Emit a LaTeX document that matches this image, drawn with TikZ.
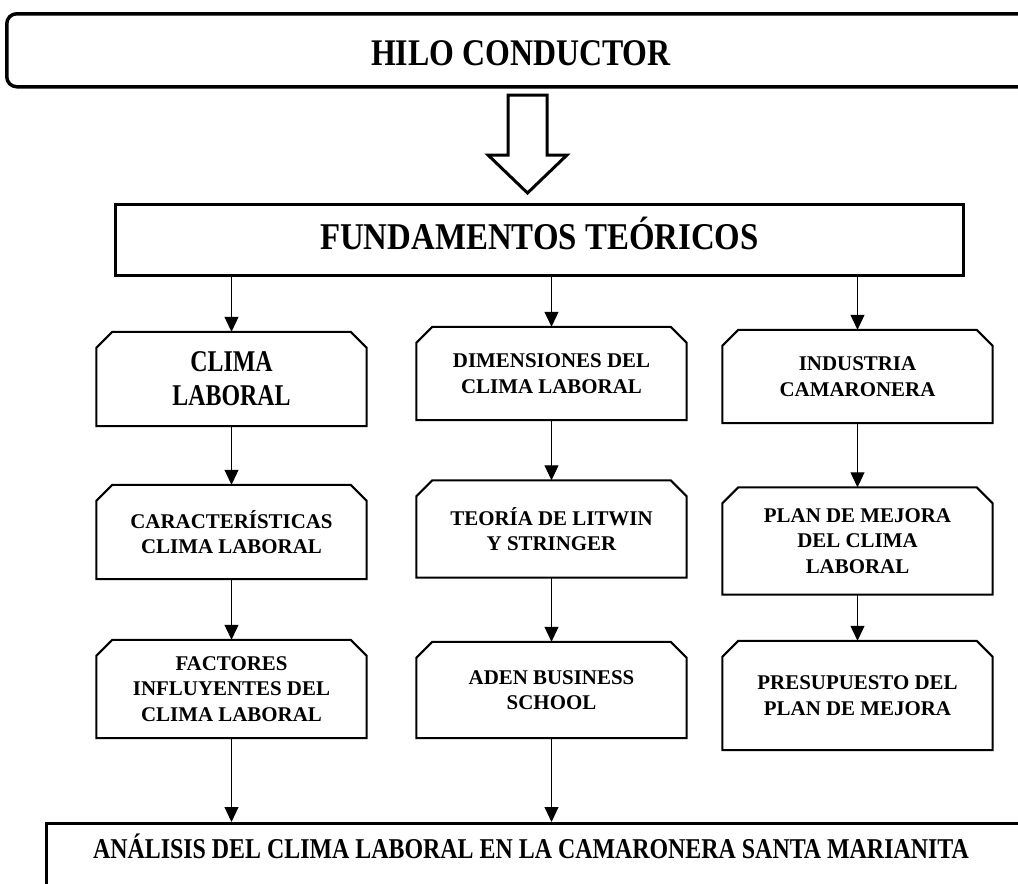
\documentclass[tikz,border=0pt]{standalone}
\usepackage{graphicx}
\usepackage{fontspec}
\setmainfont{Liberation Serif}
\usetikzlibrary{arrows.meta}

\tikzset{
  chambox/.style={minimum width=270bp, align=center, inner sep=2bp,
    font=\bfseries\fontsize{21}{25.5}\selectfont},
  link/.style={-{Triangle[length=15bp,width=14bp]}, line width=1bp},
}
% stretched lettering of the big titles
\newcommand\tall[2][1.28]{\scalebox{1}[#1]{#2}}
% outline with the two upper corners cut off
\newcommand\chamfer[1]{%
  \draw[line width=2bp] ([xshift=16bp]#1.north west) -- ([xshift=-16bp]#1.north east)
    -- ([yshift=-16bp]#1.north east) -- (#1.south east) -- (#1.south west)
    -- ([yshift=-16bp]#1.north west) -- cycle;}

\begin{document}
\begin{tikzpicture}[x=1bp, y=-1bp]
    \useasboundingbox (0,0) rectangle (1018,884);
    % title bar and hollow arrow
    \node[draw, line width=3.5bp, rounded corners=10bp, anchor=north west,
      minimum width=1040bp, minimum height=73bp] (hilo) at (5,12) {};
    \node[font=\bfseries\fontsize{32}{38}\selectfont, anchor=base] (hilotxt) at (521,65) {\tall[1.18]{HILO CONDUCTOR}};
    \draw[line width=3bp, line join=miter] (508,95) -- (547,95) -- (547,155) -- (567,155)
      -- (527.5,193) -- (488,155) -- (508,155) -- cycle;
    \node[draw, line width=3bp, minimum width=848bp, minimum height=71bp, text height=18bp, text depth=0bp,
      font=\bfseries\fontsize{33}{38}\selectfont] (fund) at (539.5,240) {\tall[1.15]{FUNDAMENTOS TEÓRICOS}};
    % first column
    \node[chambox, minimum height=94bp, font=\bfseries\fontsize{24}{34}\selectfont] (clima) at (231.5,379) {\tall[1.26]{CLIMA}\\\tall[1.26]{LABORAL}};
    \node[chambox, minimum height=94bp] (caract) at (231.5,532) {CARACTERÍSTICAS\\CLIMA LABORAL};
    \node[chambox, minimum height=98bp] (factores) at (231.5,689) {FACTORES\\INFLUYENTES DEL\\CLIMA LABORAL};
    % second column
    \node[chambox, minimum height=93bp] (dimens) at (551.5,373.5) {DIMENSIONES DEL\\CLIMA LABORAL};
    \node[chambox, minimum height=97bp] (teoria) at (551.5,529) {TEORÍA DE LITWIN\\Y STRINGER};
    \node[chambox, minimum height=96bp] (aden) at (551.5,690) {ADEN BUSINESS\\SCHOOL};
    % third column
    \node[chambox, minimum height=93bp] (industria) at (857.5,376.5) {INDUSTRIA\\CAMARONERA};
    \node[chambox, minimum height=107bp] (plan) at (857.5,541) {PLAN DE MEJORA\\DEL CLIMA\\LABORAL};
    \node[chambox, minimum height=109bp] (presup) at (857.5,695.5) {PRESUPUESTO DEL\\PLAN DE MEJORA};
    \foreach \b in {clima, caract, factores, dimens, teoria, aden, industria, plan, presup}
      \chamfer{\b};
    % bottom bar
    \node[draw, line width=3bp, anchor=north west, minimum width=1000bp,
      minimum height=90bp] (analisis) at (45,822) {};
    \node[font=\bfseries\fontsize{24}{28}\selectfont, anchor=base] (analisistxt) at (531,858)
      {\tall[1.2]{ANÁLISIS DEL CLIMA LABORAL EN LA CAMARONERA SANTA MARIANITA}};
    % connectors
    \foreach \b in {clima, dimens, industria}
      \draw[link] (fund.south -| \b.north) -- (\b.north);
    \foreach \a/\b in {clima/caract, caract/factores, dimens/teoria, teoria/aden, industria/plan, plan/presup}
      \draw[link] (\a) -- (\b);
    \foreach \a in {factores, aden}
      \draw[link] (\a.south) -- (\a.south |- analisis.north);
\end{tikzpicture}
\end{document}
